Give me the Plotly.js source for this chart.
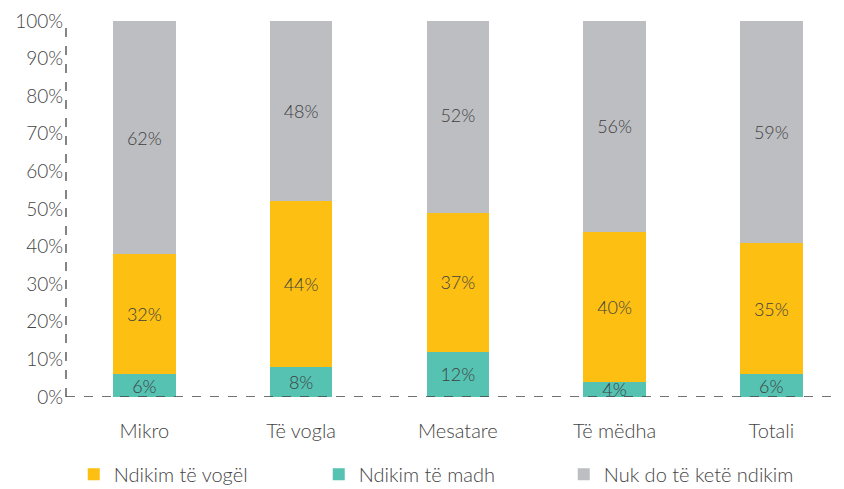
<!DOCTYPE html>
<html>
<head>
<meta charset="utf-8">
<script src="https://cdn.plot.ly/plotly-3.0.1.min.js"></script>
<style>html,body{margin:0;padding:0;background:#fff}#chart{width:844px;height:489px}</style>
</head>
<body>
<div id="chart"></div>
<script>
const categories = ["Mikro", "Të vogla", "Mesatare", "Të mëdha", "Totali"];
const madh = [6, 8, 12, 4, 6];        // Ndikim të madh
const vogel = [32, 44, 37, 40, 35];   // Ndikim të vogël
const nuk = [62, 48, 52, 56, 59];     // Nuk do të ketë ndikim
const seriesNames = ["Ndikim të madh", "Ndikim të vogël", "Nuk do të ketë ndikim"];
const yTicks = [0, 10, 20, 30, 40, 50, 60, 70, 80, 90, 100];

const FONT = "Lato, 'Open Sans', sans-serif";
const textFont = {family: FONT, size: 18, color: "#404040", weight: 300};

function barTrace(name, vals, color, rank) {
  return {
    type: "bar", name: name, x: categories, y: vals,
    marker: {color: color},
    text: vals.map(v => v + "%"),
    texttemplate: "%{text}",
    textposition: "inside",
    insidetextanchor: "middle",
    constraintext: "none",
    textfont: textFont,
    hoverinfo: "skip",
    legendrank: rank
  };
}

const data = [
  barTrace(seriesNames[0], madh, "#55C2B2", 2),
  barTrace(seriesNames[1], vogel, "#FCBF12", 1),
  barTrace(seriesNames[2], nuk, "#BDBEC2", 3)
];

const layout = {
  width: 844, height: 489,
  barmode: "stack",
  bargap: 0.6,
  margin: {l: 66, r: 4, t: 21, b: 92, autoexpand: false},
  paper_bgcolor: "#fff", plot_bgcolor: "#fff",
  font: {family: FONT, color: "#444"},
  xaxis: {
    range: [-0.5, 4.438],
    showgrid: false, zeroline: false, showline: false,
    ticks: "", tickfont: {family: FONT, size: 20, color: "#444", weight: 300},
    ticklabelstandoff: 20
  },
  yaxis: {
    range: [0, 100],
    tickvals: yTicks, ticktext: yTicks.map(v => v + "%"),
    showgrid: false, zeroline: false, showline: false,
    ticks: "", ticklabelstandoff: 2,
    tickfont: {family: FONT, size: 19, color: "#444", weight: 300}
  },
  shapes: [
    {type: "line", xref: "paper", yref: "paper", x0: 0, x1: 0, y0: 0, y1: 1,
     line: {color: "#444", width: 1.3, dash: "dash"}},
    {type: "line", xref: "paper", yref: "y", x0: 0, x1: 0.995, y0: 0, y1: 0,
     line: {color: "#444", width: 1.3, dash: "dash"}}
  ],
  showlegend: true,
  legend: {
    orientation: "h", x: 0.01, xanchor: "left",
    yref: "container", y: 0.03, yanchor: "middle",
    font: {family: FONT, size: 20, color: "#444", weight: 300},
    entrywidth: 200, traceorder: "normal", itemwidth: 30
  }
};

Plotly.newPlot("chart", data, layout, {displayModeBar: false, staticPlot: true});
</script>
</body>
</html>
